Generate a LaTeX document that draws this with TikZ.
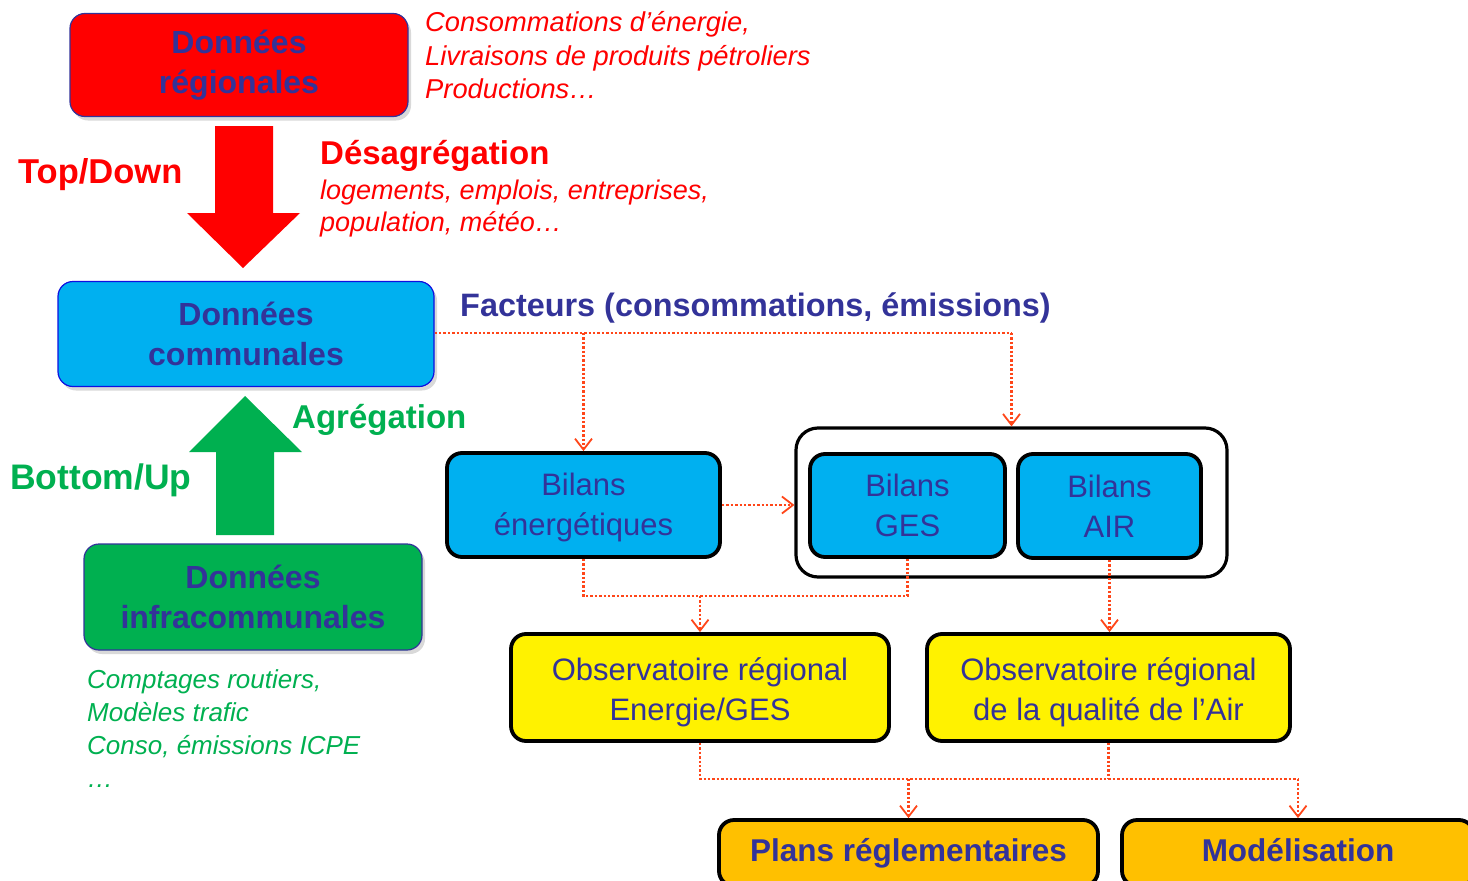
\documentclass[tikz,border=0pt]{standalone}
\usepackage{fontspec}
\setmainfont{Liberation Sans}
\usetikzlibrary{arrows.meta,shadows}
\definecolor{tblue}{RGB}{51,51,153}
\definecolor{cyanbox}{RGB}{0,176,240}
\definecolor{greenbox}{RGB}{0,176,80}
\definecolor{orangebox}{RGB}{255,192,0}
\definecolor{dotred}{RGB}{255,70,25}
\tikzset{
  softbox/.style={rounded corners=15pt, draw=tblue, line width=1.2pt, text=tblue, align=center,
     font=\bfseries\fontsize{32}{40}\selectfont,
     drop shadow={shadow xshift=3pt, shadow yshift=-4pt, opacity=0.3}},
  hardbox/.style={rounded corners=15pt, draw=black, line width=3.8pt, text=tblue, align=center,
     font=\fontsize{31}{40}\selectfont},
  dl/.style={draw=dotred, line width=2.4pt, dash pattern=on 2.4pt off 2pt},
  conn/.style={dl, -{Straight Barb[length=11pt,width=17pt,line width=1.8pt]}},
  lbl/.style={anchor=base west, inner sep=0pt}
}
\begin{document}
\begin{tikzpicture}[x=1pt,y=-1pt]
\useasboundingbox (0,0) rectangle (1468,881);
% left column boxes
\node[softbox, fill=red, minimum width=338pt, minimum height=103pt] (reg) at (239,65) {Données\\régionales};
\node[softbox, fill=cyanbox, draw=blue!70!tblue, minimum width=376pt, minimum height=105pt] (com) at (246,334) {Données\\communales};
\node[softbox, fill=greenbox, minimum width=338pt, minimum height=106pt] (infra) at (253,597) {Données\\infracommunales};
% big arrows
\fill[red] (215,126) -- (273,126) -- (273,213) -- (300,213) -- (243,268) -- (187,213) -- (215,213) -- cycle;
\fill[greenbox] (216,535) -- (274,535) -- (274,452) -- (302,452) -- (245,396) -- (189,452) -- (216,452) -- cycle;
% labels
\node[lbl, text=red, font=\bfseries\fontsize{34.5}{40}\selectfont] (td) at (18,183) {Top/Down};
\node[lbl, text=greenbox, font=\bfseries\fontsize{35.5}{40}\selectfont] (bu) at (10,489) {Bottom/Up};
\node[lbl, text=red, font=\bfseries\fontsize{33}{40}\selectfont] (des) at (320,164) {Désagrégation};
\node[lbl, text=red, font=\itshape\fontsize{27}{33}\selectfont] (des1) at (320,199) {logements, emplois, entreprises,};
\node[lbl, text=red, font=\itshape\fontsize{27}{33}\selectfont] (des2) at (320,231) {population, météo\ldots};
\node[lbl, text=red, font=\itshape\fontsize{27.3}{33}\selectfont] (c1) at (425,31) {Consommations d’énergie,};
\node[lbl, text=red, font=\itshape\fontsize{27.3}{33}\selectfont] (c2) at (425,65) {Livraisons de produits pétroliers};
\node[lbl, text=red, font=\itshape\fontsize{27.3}{33}\selectfont] (c3) at (425,98) {Productions\ldots};
\node[lbl, text=greenbox, font=\bfseries\fontsize{33}{40}\selectfont] (agr) at (292,428) {Agrégation};
\node[lbl, text=tblue, font=\bfseries\fontsize{32.4}{40}\selectfont] (fac) at (460,316) {Facteurs (consommations, émissions)};
\node[lbl, text=greenbox, font=\itshape\fontsize{26}{33}\selectfont] (g1) at (87,688) {Comptages routiers,};
\node[lbl, text=greenbox, font=\itshape\fontsize{26}{33}\selectfont] (g2) at (87,721) {Modèles trafic};
\node[lbl, text=greenbox, font=\itshape\fontsize{26}{33}\selectfont] (g3) at (87,754) {Conso, émissions ICPE};
\node[lbl, text=greenbox, font=\itshape\fontsize{26}{33}\selectfont] (g4) at (87,787) {\ldots};
% bilans
\node[hardbox, fill=cyanbox, minimum width=273pt, minimum height=104pt, text height=68pt] (bE) at (583.5,505) {Bilans\\énergétiques};
\node[rounded corners=22pt, draw=black, line width=3.2pt, fill=white, minimum width=431pt, minimum height=149pt] (grp) at (1011.5,502.5) {};
\node[hardbox, fill=cyanbox, minimum width=195pt, minimum height=103pt] (bG) at (907.5,505.5) {Bilans\\GES};
\node[hardbox, fill=cyanbox, minimum width=183pt, minimum height=104pt] (bA) at (1109.5,506) {Bilans\\AIR};
% observatoires
\node[hardbox, fill=yellow, minimum width=378pt, minimum height=107pt, text height=73pt] (obs1) at (700,687.5) {Observatoire régional\\Energie/GES};
\node[hardbox, fill=yellow, minimum width=363pt, minimum height=107pt, text height=73pt] (obs2) at (1108.5,687.5) {Observatoire régional\\de la qualité de l’Air};
% outputs
\node[hardbox, fill=orangebox, font=\bfseries\fontsize{31.5}{40}\selectfont, text height=23pt, text depth=7pt, minimum width=379pt, minimum height=66pt] (plans) at (908.5,853) {Plans réglementaires};
\node[hardbox, fill=orangebox, font=\bfseries\fontsize{31.5}{40}\selectfont, text height=23pt, text depth=7pt, minimum width=352pt, minimum height=66pt] (mod) at (1298,853) {Modélisation};
% connectors
\coordinate (top) at (0,333);
\draw[dl] (com.east |- top) -- (grp.north |- top);
\draw[conn] (bE.north |- top) -- (bE.north);
\draw[conn] (grp.north |- top) -- (grp.north);
\draw[conn] (bE.east) -- (bE.east -| grp.west);
\coordinate (j1) at (0,596);
\draw[dl] (bE.south) |- (bG.south |- j1) -- (bG.south);
\draw[conn] (obs1.north |- j1) -- (obs1.north);
\draw[conn] (bA.south) -- (bA.south |- obs2.north);
\coordinate (j2) at (0,779);
\draw[dl] (obs1.south) |- (mod.north |- j2);
\draw[dl] (obs2.south) -- (obs2.south |- j2);
\draw[conn] (plans.north |- j2) -- (plans.north);
\draw[conn] (mod.north |- j2) -- (mod.north);
\end{tikzpicture}
\end{document}
